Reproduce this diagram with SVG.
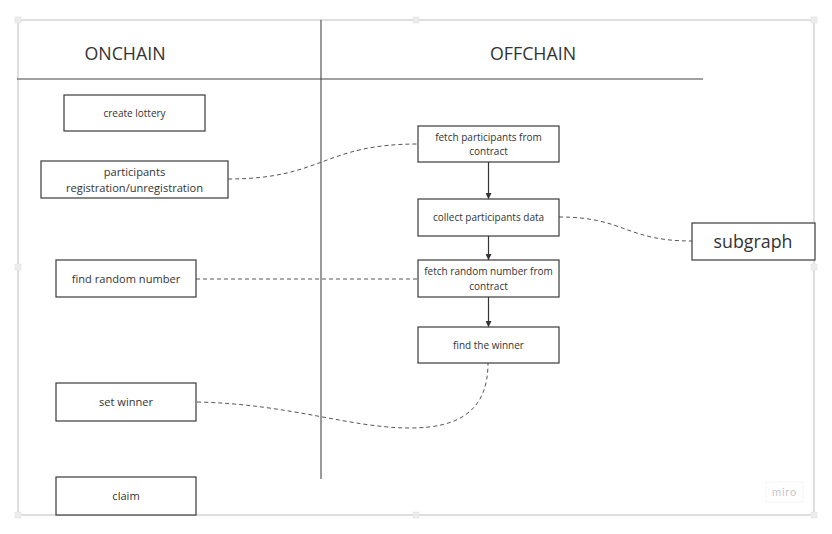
<svg xmlns="http://www.w3.org/2000/svg" width="832" height="534" viewBox="0 0 832 534">
<defs>
<style>
.box{fill:#fff;stroke:#3a3a3a;stroke-width:1.2}
.t{font-family:"Open Sans","Liberation Sans",sans-serif;fill:#333;text-anchor:middle}
.s{font-size:10px}
.m{font-size:11.1px}
.h{font-size:17.8px}
.dash{fill:none;stroke:#555;stroke-width:1;stroke-dasharray:4 3}
.solid{fill:none;stroke:#333;stroke-width:1.2}
.handle{fill:#ececec;stroke:#e0e0e0;stroke-width:0.5}
</style>
<marker id="arr" viewBox="0 0 10 10" refX="10" refY="5" markerWidth="6" markerHeight="6" markerUnits="userSpaceOnUse" orient="auto">
<path d="M0,0 L10,5 L0,10 z" fill="#333"/>
</marker>
</defs>
<rect width="832" height="534" fill="#fff"/>
<g id="frame">
<rect x="18" y="20" width="796" height="495" fill="none" stroke="#bdbdbd" stroke-width="1"/>
<line x1="321" y1="20" x2="321" y2="479" stroke="#555" stroke-width="1.2"/>
<line x1="17" y1="79" x2="703" y2="79" stroke="#444" stroke-width="1.2"/>
<text class="t h" x="125" y="60">ONCHAIN</text>
<text class="t h" x="533" y="60">OFFCHAIN</text>
</g>
<g id="handles">
<rect class="handle" x="15" y="17" width="6" height="6"/>
<rect class="handle" x="413" y="17" width="6" height="6"/>
<rect class="handle" x="811" y="17" width="6" height="6"/>
<rect class="handle" x="15" y="264" width="6" height="6"/>
<rect class="handle" x="811" y="264" width="6" height="6"/>
<rect class="handle" x="15" y="512" width="6" height="6"/>
<rect class="handle" x="413" y="512" width="6" height="6"/>
<rect class="handle" x="811" y="512" width="6" height="6"/>
</g>
<g id="connectors">
<path class="dash" d="M228,179 C323,179 323,144 418,144"/>
<path class="dash" d="M559,217 C625,217 625,241 692,241"/>
<path class="dash" d="M196,279 L418,279"/>
<path class="dash" d="M197,402 C290,404 350,428 410,428 C460,428 488,410 488,363"/>
<line class="solid" x1="488.5" y1="162" x2="488.5" y2="199" marker-end="url(#arr)"/>
<line class="solid" x1="488.5" y1="236" x2="488.5" y2="260" marker-end="url(#arr)"/>
<line class="solid" x1="488.5" y1="297" x2="488.5" y2="327" marker-end="url(#arr)"/>
</g>
<g id="create-lottery">
<rect class="box" x="64" y="95" width="141" height="36"/>
<text class="t s" x="134.5" y="117">create lottery</text>
</g>
<g id="participants-registration">
<rect class="box" x="41" y="161" width="187" height="37"/>
<text class="t m" x="134.5" y="176">participants</text>
<text class="t m" x="134.5" y="192">registration/unregistration</text>
</g>
<g id="find-random-number">
<rect class="box" x="56" y="260" width="140" height="37"/>
<text class="t m" x="126" y="283">find random number</text>
</g>
<g id="set-winner">
<rect class="box" x="56" y="383" width="140" height="38"/>
<text class="t m" x="126" y="406">set winner</text>
</g>
<g id="claim">
<rect class="box" x="56" y="477" width="140" height="38"/>
<text class="t m" x="126" y="500">claim</text>
</g>
<g id="fetch-participants">
<rect class="box" x="418" y="126" width="141" height="36"/>
<text class="t s" x="488.5" y="141">fetch participants from</text>
<text class="t s" x="488.5" y="155">contract</text>
</g>
<g id="collect-participants">
<rect class="box" x="418" y="199" width="141" height="37"/>
<text class="t s" x="488.5" y="221">collect participants data</text>
</g>
<g id="fetch-random">
<rect class="box" x="418" y="260" width="141" height="37"/>
<text class="t s" x="488.5" y="275">fetch random number from</text>
<text class="t s" x="488.5" y="290">contract</text>
</g>
<g id="find-winner">
<rect class="box" x="418" y="327" width="141" height="36"/>
<text class="t s" x="488.5" y="349">find the winner</text>
</g>
<g id="subgraph">
<rect class="box" x="692" y="223" width="123" height="37"/>
<text class="t h" x="753" y="248">subgraph</text>
</g>
<g id="watermark">
<rect x="766" y="482" width="37" height="20" fill="#fff" stroke="#f6f6f6" stroke-width="1"/>
<text x="784.5" y="496" font-family="Inter,'Liberation Sans',sans-serif" font-size="10.5" fill="#c4c4c8" text-anchor="middle" letter-spacing="0.8">miro</text>
</g>
</svg>
